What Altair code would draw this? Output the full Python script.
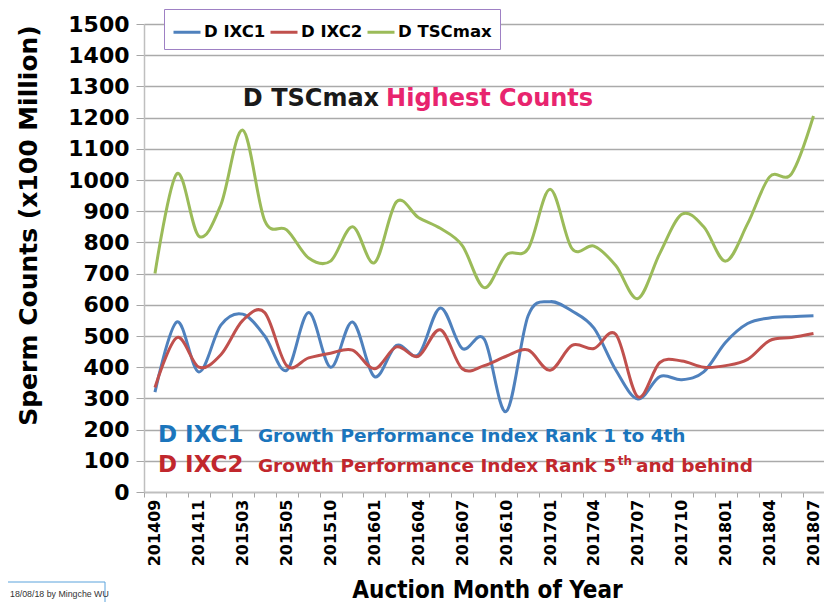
import altair as alt
import pandas as pd

# ---------------- data ----------------
months = ["201409", "201410", "201411", "201412", "201503", "201504", "201505", "201507",
          "201510", "201511", "201601", "201602", "201604", "201605", "201607", "201608",
          "201610", "201611", "201701", "201702", "201704", "201705", "201707", "201708",
          "201710", "201711", "201801", "201802", "201804", "201805", "201807"]
ixc1 = [320, 545, 385, 535, 570, 500, 390, 575, 400, 545, 370, 470, 440, 590, 460, 490,
        258, 565, 610, 580, 525, 390, 298, 370, 360, 385, 480, 540, 558, 562, 565]
ixc2 = [335, 495, 400, 440, 550, 575, 405, 430, 445, 455, 395, 465, 435, 520, 395, 405,
        435, 455, 390, 470, 460, 505, 305, 415, 420, 400, 405, 425, 485, 495, 508]
tscmax = [700, 1020, 820, 920, 1160, 870, 840, 750, 740, 850, 735, 930, 880, 845, 790, 655,
          760, 780, 970, 780, 788, 725, 620, 765, 890, 850, 740, 860, 1010, 1020, 1205]
series_names = ["D IXC1", "D IXC2", "D TSCmax"]
series_colors = ["#4F81BD", "#C0504D", "#9BBB59"]
y_ticks = list(range(0, 1501, 100))

rows = []
for name, vals in zip(series_names, [ixc1, ixc2, tscmax]):
    for i, m in enumerate(months):
        rows.append({"idx": i, "month": m, "series": name, "value": vals[i]})
df = pd.DataFrame(rows)

# ---------------- layout ----------------
W, H = 680, 468
BAND = 21.95
x_dom = [-0.5, -0.5 + W / BAND]
n = len(months)

label_arr = "[" + ",".join("'%s'" % m for m in months) + "]"
x_values = sorted([i - 0.5 for i in range(n)] + list(range(0, n, 2)))

x_axis = alt.Axis(
    values=x_values,
    labelExpr=label_arr + "[datum.value] || ''",
    labelAngle=-90, labelFont="DejaVu Sans", labelFontWeight="bold", labelFontSize=16,
    labelColor="black", labelOverlap=False, labelFlush=False, labelPadding=2,
    tickSize=5, tickColor="#A6A6A6", tickWidth=1,
    tickOpacity={"condition": {"test": "datum.value % 1 != 0", "value": 1}, "value": 0},
    domainColor="#BFBFBF", domainWidth=1.5, grid=False,
    title="Auction Month of Year", titleFont="DejaVu Sans Condensed", titleFontWeight="bold",
    titleFontSize=24, titleColor="black", titleX=343, titleY=105,
    titleBaseline="alphabetic", titleAlign="center",
)
y_axis = alt.Axis(
    values=y_ticks, format="d", labelOverlap=False,
    labelFont="DejaVu Sans", labelFontSize=22, labelFontWeight="bold",
    labelColor="black", labelPadding=7, tickSize=8, tickColor="#A6A6A6",
    domainColor="#BFBFBF", domainWidth=1.5, grid=True, gridColor="#AAAAAA", gridWidth=1.5,
    title="Sperm Counts (x100 Million)", titleFont="DejaVu Sans", titleFontSize=25,
    titleFontWeight="bold", titleColor="black", titleAngle=270, titleX=-116, titleY=201,
    titleAlign="center", titleBaseline="middle",
)
x_scale = alt.Scale(domain=x_dom, nice=False, zero=False)
y_scale = alt.Scale(domain=[0, 1500], nice=False)

lines = alt.Chart(df).mark_line(interpolate="cardinal", strokeWidth=3).encode(
    x=alt.X("idx:Q", scale=x_scale, axis=x_axis),
    y=alt.Y("value:Q", scale=y_scale, axis=y_axis),
    color=alt.Color(
        "series:N",
        scale=alt.Scale(domain=series_names, range=series_colors),
        legend=alt.Legend(
            title=None, orient="none", legendX=20, legendY=-15, direction="horizontal",
            columns=3, symbolType="stroke", symbolSize=729, symbolStrokeWidth=3,
            labelFont="DejaVu Sans", labelFontWeight="bold", labelFontSize=16.5,
            labelColor="black", labelOffset=2, columnPadding=-2, padding=8,
            strokeColor="#9E80C4", fillColor="white",
        ),
    ),
    detail="series:N",
)

one = pd.DataFrame({"k": [0]})


def note(txt, xi, yv, color, size, align="left", dx=0):
    return alt.Chart(one).mark_text(
        text=txt, align=align, baseline="alphabetic", dx=dx, font="DejaVu Sans",
        fontSize=size, fontWeight="bold", color=color,
    ).encode(
        x=alt.XDatum(xi, scale=x_scale, axis=x_axis),
        y=alt.YDatum(yv, scale=y_scale, axis=y_axis),
    )


BLUE_T = "#1B75BC"
RED_T = "#C1272D"
notes = [
    note("D TSCmax", 10.37, 1237, "#1A1A1A", 24, align="right", dx=-3.5),
    note("Highest Counts", 10.37, 1237, "#E8246E", 24, align="left", dx=3.5),
    note("D IXC1", 0.138, 160, BLUE_T, 23),
    note("Growth Performance Index Rank 1 to 4th", 4.69, 160, BLUE_T, 18.5),
    note("D IXC2", 0.138, 64, RED_T, 23),
    note("Growth Performance Index Rank 5", 4.69, 64, RED_T, 18.5),
    note("th", 21.08, 86, RED_T, 12),
    note("and behind", 21.91, 64, RED_T, 18.5),
]

footer_box = alt.Chart(one).mark_rect(fill="white", stroke="#5BA3DC", strokeWidth=1).encode(
    x=alt.value(-140), x2=alt.value(-39), y=alt.value(558), y2=alt.value(620)
)
footer_txt = alt.Chart(one).mark_text(
    text="18/08/18 by Mingche WU", align="left", baseline="alphabetic",
    font="Liberation Sans", fontSize=8.8, color="#333333",
).encode(x=alt.value(-134), y=alt.value(573))

chart = alt.layer(lines, *notes, footer_box, footer_txt).properties(
    width=W, height=H,
    autosize=alt.AutoSizeParams(type="none"),
    padding={"left": 136, "top": 16, "right": 0, "bottom": 110},
    background="white",
).configure_view(stroke=None)

chart.save("out.html", embed_options={"renderer": "svg", "actions": False})
